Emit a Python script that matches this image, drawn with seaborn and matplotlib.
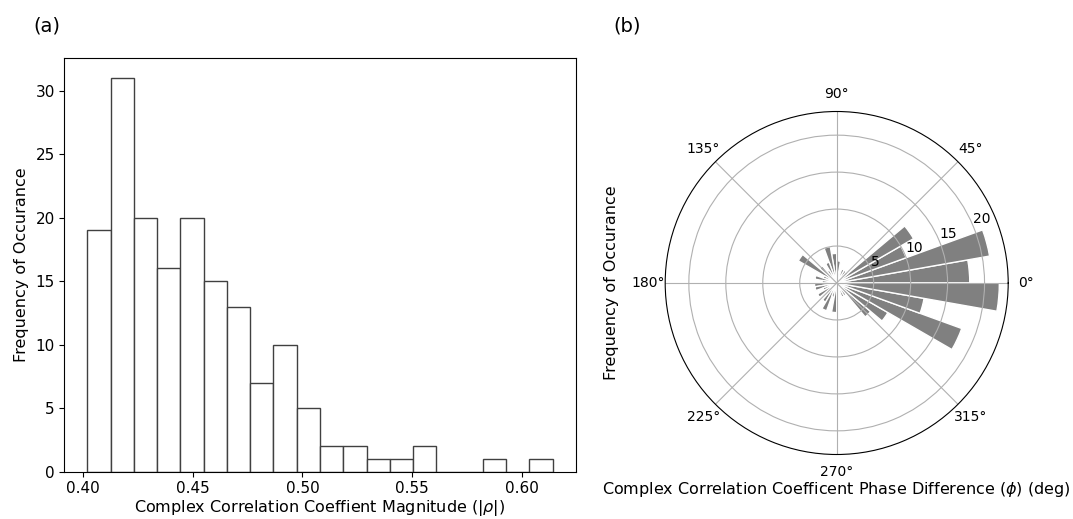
import numpy as np
import pandas as pd
import matplotlib
matplotlib.use("Agg")
import matplotlib.pyplot as plt
import seaborn as sns

# |rho| histogram: bin edges and counts
mag_edges = np.linspace(0.402, 0.614, 21)
mag_counts = [19, 31, 20, 16, 20, 15, 13, 7, 10, 5, 2, 2, 1, 1, 2, 0, 0, 1, 0, 1]
mag_ticks = [0.40, 0.45, 0.50, 0.55, 0.60]
count_ticks = [0, 5, 10, 15, 20, 25, 30]

# phase-difference histogram: 10-degree bins, listed from 0 deg counter-clockwise
phase_bin_start_deg = np.arange(0, 360, 10)
phase_counts = [18, 21, 10, 12, 2, 2, 2, 1, 3, 4,
                5, 3, 2, 3, 6, 2, 3, 2, 3, 3,
                2, 3, 1, 3, 4, 2, 4, 1, 1, 2,
                2, 6, 8, 18, 12, 22]
radial_ticks = [5, 10, 15, 20]

plt.rcParams["font.family"] = ["DejaVu Sans"]

W, H = 1073, 519
fig = plt.figure(figsize=(W / 100, H / 100), dpi=100)

# ---- (a) magnitude histogram ----
ax1 = fig.add_axes([64 / W, 47.3 / H, 512 / W, 413.4 / H])
mag_df = pd.DataFrame({
    "mag": 0.5 * (mag_edges[:-1] + mag_edges[1:]),
    "count": mag_counts,
})
sns.histplot(data=mag_df, x="mag", weights="count", bins=list(mag_edges), ax=ax1,
             color="white", edgecolor="#404040", linewidth=1.0, alpha=1.0)
ax1.set_xticks(mag_ticks)
ax1.set_xticklabels([f"{t:.2f}" for t in mag_ticks])
ax1.set_yticks(count_ticks)
ax1.tick_params(labelsize=11, pad=3)
ax1.set_xlabel(r"Complex Correlation Coeffient Magnitude ($|\rho|$)",
               fontsize=11.5, labelpad=1.5)
ax1.set_ylabel("Frequency of Occurance", fontsize=11.5, labelpad=5)
fig.text(33 / W, 1 - 26 / H, "(a)", fontsize=14, va="center", ha="left")

# ---- (b) phase polar histogram ----
cx, cy, R = 836.7, 283.0, 171.5
ax2 = fig.add_axes([(cx - R) / W, (H - cy - R) / H, 2 * R / W, 2 * R / H],
                   projection="polar")
ax2.bar(np.deg2rad(phase_bin_start_deg), phase_counts, width=np.deg2rad(10),
        align="edge", color="gray", edgecolor="white", linewidth=1.0)
ax2.set_ylim(0, 23.2)
ax2.set_yticks(radial_ticks)
ax2.tick_params(labelsize=10)
ax2.tick_params(axis="x", pad=2)
ax2.set_xlabel(r"Complex Correlation Coefficent Phase Difference ($\phi$) (deg)",
               fontsize=11.5, labelpad=1)
ax2.set_ylabel("Frequency of Occurance", fontsize=11.5, labelpad=33)
fig.text(613 / W, 1 - 26 / H, "(b)", fontsize=14, va="center", ha="left")

fig.savefig("out.png", dpi=100)
